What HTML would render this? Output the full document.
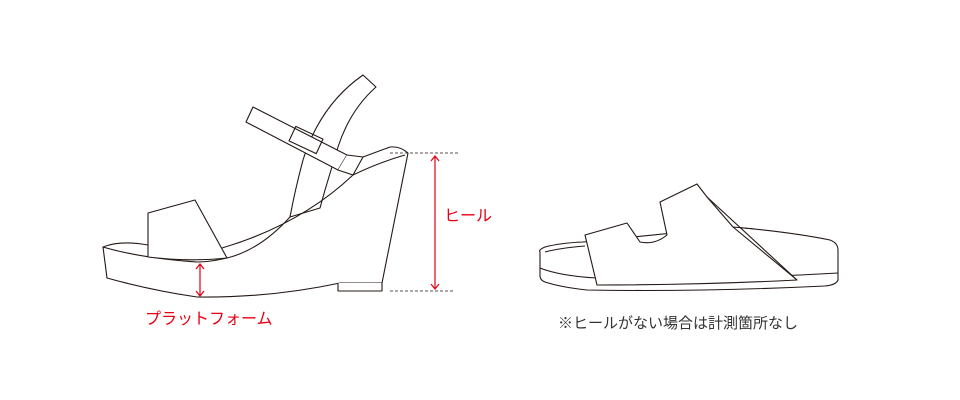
<!DOCTYPE html>
<html><head><meta charset="utf-8"><style>
body{margin:0;background:#fff;}
svg{display:block;}
text{font-family:"Liberation Sans","Noto Sans CJK JP",sans-serif;}
</style></head><body>
<svg width="960" height="400" viewBox="0 0 960 400" xmlns="http://www.w3.org/2000/svg">
<g fill="#fff" stroke="#231815" stroke-width="1.1" stroke-linejoin="round">
<!-- wedge -->
<path d="M103,247 L107,278 Q150,290 197,297 Q270,298 340,283 L382,283 L408,153 Q400,146 390,147 L363,157 Q300,170 290,217 Q260,250 227,258 Q210,262 197,262 Q140,258 103,247 Z"/>
<path d="M103,247 Q120,240 148,245"/>
<path d="M338,283 L338,291 L382,291 L382,283"/>
<!-- ankle strap vertical -->
<path d="M290,217 Q295,190 303,160 Q320,105 363,75 L376,87 Q350,110 338,147 L325,190 L320,208 Q300,214 290,217 Z"/>
<!-- horizontal strap -->
<path d="M253,107 L246,122 L338,170 L347,155 Z"/>
<path d="M338,170 L353,175 L363,157 L347,155"/>
<rect x="291" y="132" width="30" height="16" transform="rotate(25 306 140)" fill="none"/>
<!-- inner heel curve -->
<path d="M222,248 Q300,225 353,175 Q380,162 405,155" fill="none"/>
<!-- toe strap -->
<path d="M148,257 L148,213 L195,200 L227,258 Q190,262 148,257 Z"/>
<!-- sandal -->
<path d="M540,252 Q538,250 545,247 Q560,243 583,242 L733,227 Q790,232 830,240 Q838,243 838,250 L838,280 Q836,285 825,286 Q700,292 587,290 Q560,287 545,282 Q540,280 540,276 Z"/>
<path d="M540,268 Q560,276 597,278 Q720,280 838,273" fill="none"/>
<path d="M545,252 Q560,248 585,246" fill="none"/>
<path d="M585,235 L597,285 Q700,285 797,280 L707,197 L697,184 L660,202 L667,235 Q655,245 640,242 L627,223 Z"/>
<path d="M707,197 L733,227 L755,229 M733,227 L797,280" fill="none"/>
</g>
<g stroke="#231815" stroke-width="0.8" stroke-dasharray="3,2">
<line x1="390" y1="153" x2="458" y2="153"/>
<line x1="390" y1="291" x2="455" y2="291"/>
</g>
<g stroke="#e60012" stroke-width="1.2" fill="none">
<line x1="435" y1="156" x2="435" y2="289"/>
<path d="M431,161 L435,156 L439,161 M431,284 L435,289 L439,284"/>
<line x1="200" y1="264" x2="200" y2="296"/>
<path d="M196,269 L200,264 L204,269 M196,291 L200,296 L204,291"/>
</g>
<text x="444" y="221" font-size="16" fill="#e60012">ヒール</text>
<text x="145" y="324" font-size="16" fill="#e60012">プラットフォーム</text>
<text x="558" y="328" font-size="15" fill="#333">※ヒールがない場合は計測箇所なし</text>
</svg>
</body></html>
